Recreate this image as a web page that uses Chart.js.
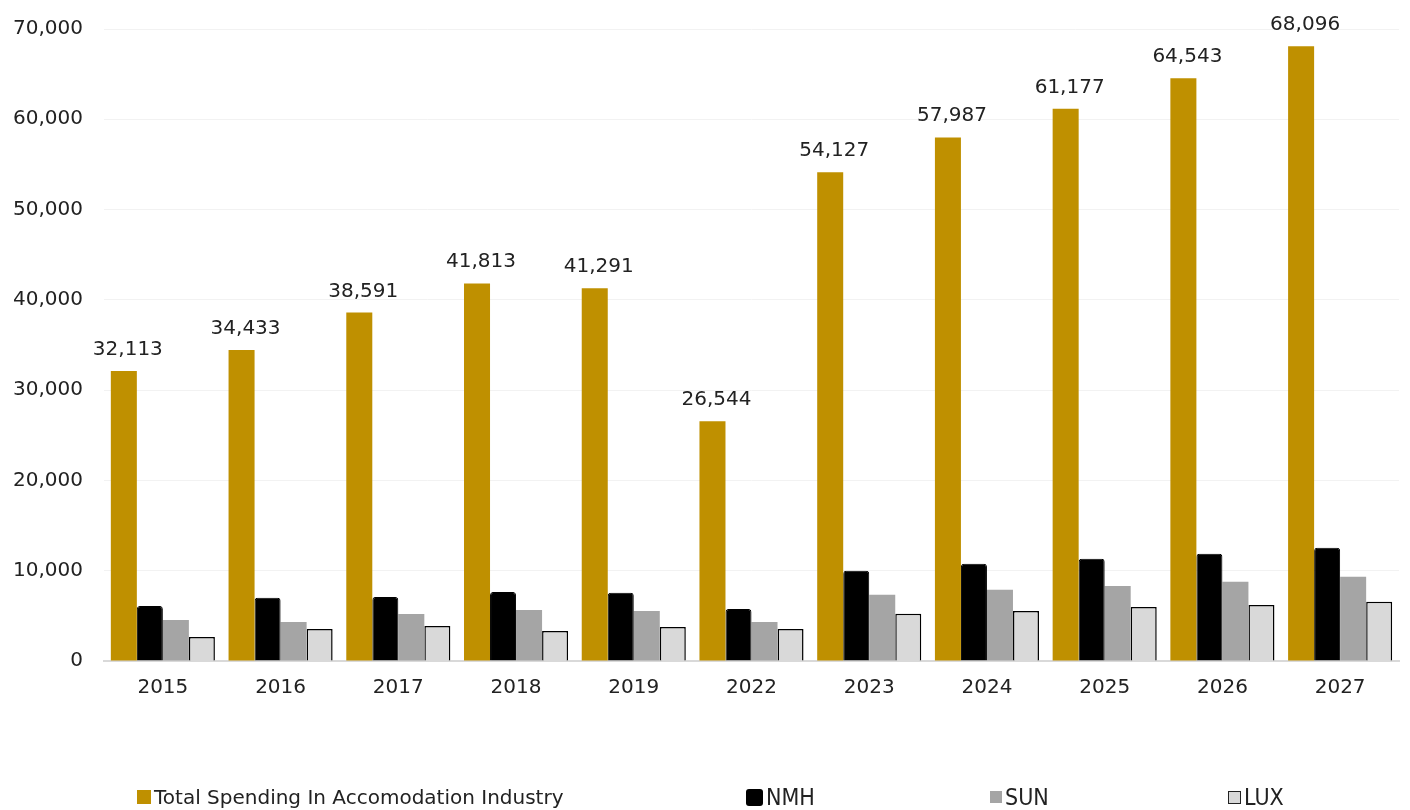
<!DOCTYPE html>
<html>
<head>
<meta charset="utf-8">
<script src="https://cdn.jsdelivr.net/npm/chart.js@4.4.1/dist/chart.umd.min.js"></script>
<style>
  body { margin: 0; background: #fff; }
  #wrap { position: relative; width: 1410px; height: 810px; }
  #legend { position: absolute; left: 0; top: 784px; width: 1410px; height: 26px;
    font-family: "DejaVu Sans", sans-serif; font-size: 20px; color: #222; }
  .item { position: absolute; top: 0; height: 26px; white-space: nowrap; display: flex; align-items: center; }
  .box { display: inline-block; margin-right: 3px; box-sizing: border-box; }
  .narrow { font-family: "Liberation Sans Narrow", "DejaVu Sans Condensed", sans-serif; font-size: 23px; }
</style>
</head>
<body>
<div id="wrap">
  <canvas id="mycanvas" width="1410" height="810"></canvas>
  <div id="legend"></div>
</div>
<script>
var years = ["2015","2016","2017","2018","2019","2022","2023","2024","2025","2026","2027"];
var total_spending = [32113,34433,38591,41813,41291,26544,54127,57987,61177,64543,68096];
var nmh = [6100,7000,7100,7650,7550,5770,10000,10770,11320,11880,12540];
var sun = [4550,4330,5200,5660,5550,4330,7330,7880,8320,8770,9320];
var lux = [2650,3550,3880,3330,3770,3550,5220,5550,5990,6215,6550];

var fontName = '"DejaVu Sans", sans-serif';

// value labels above the gold bars
var topLabels = {
	id: 'topLabels',
	afterDatasetsDraw: function(chart){
		var ctx = chart.ctx;
		var meta = chart.getDatasetMeta(0);
		ctx.save();
		ctx.font = '20px ' + fontName;
		ctx.fillStyle = '#222';
		ctx.textAlign = 'center';
		ctx.textBaseline = 'alphabetic';
		meta.data.forEach(function(bar, i){
			ctx.fillText(total_spending[i].toLocaleString('en-US'), bar.x + 4, bar.y - 16);
		});
		ctx.restore();
	}
};

var chartdata = {
	labels: years,
	datasets: [
		{
			label: "Total Spending In Accomodation Industry",
			backgroundColor: "#BF9000",
			borderWidth: 0,
			data: total_spending
		},
		{
			label: "NMH",
			backgroundColor: "#000000",
			borderColor: "#000000",
			borderWidth: 1,
			borderRadius: 3,
			borderSkipped: 'bottom',
			data: nmh
		},
		{
			label: "SUN",
			backgroundColor: "#A5A5A5",
			borderWidth: 0,
			data: sun
		},
		{
			label: "LUX",
			backgroundColor: "#D9D9D9",
			borderColor: "#000000",
			borderWidth: 1.5,
			borderSkipped: 'bottom',
			data: lux
		}
	]
};

var ctx = document.getElementById("mycanvas");
var BarGraph = new Chart(ctx, {
	type: 'bar',
	data: chartdata,
	options: {
		responsive: false,
		animation: false,
		layout: { padding: { top: 29, right: 11, left: 0, bottom: 103 } },
		datasets: { bar: { categoryPercentage: 0.884, barPercentage: 1 } },
		plugins: {
			legend: { display: false },
			tooltip: { enabled: false }
		},
		scales: {
			x: {
				grid: { display: false },
				border: { color: '#D9D9D9', width: 2 },
				ticks: { color: '#222', font: { family: fontName, size: 20 }, padding: 7 }
			},
			y: {
				min: 0,
				max: 70000,
				border: { display: false },
				grid: { color: '#F2F2F2', lineWidth: 1, drawTicks: false },
				afterFit: function(scale){ scale.width = 104; },
				ticks: {
					stepSize: 10000,
					color: '#222',
					padding: 21,
					font: { family: fontName, size: 20, lineHeight: 0.6 },
					callback: function(v){ return v.toLocaleString('en-US'); }
				}
			}
		}
	},
	plugins: [topLabels]
});

// legend below the chart
var legendItems = [
	{ text: chartdata.datasets[0].label, x: 137, size: 14, bg: '#BF9000', border: 'none', radius: 0, narrow: false },
	{ text: 'NMH', x: 746, size: 17, bg: '#000', border: 'none', radius: 3, narrow: true },
	{ text: 'SUN', x: 990, size: 12, bg: '#A5A5A5', border: 'none', radius: 0, narrow: true },
	{ text: 'LUX', x: 1228, size: 13, bg: '#D9D9D9', border: '1px solid #222', radius: 0, narrow: true }
];
var legend = document.getElementById('legend');
legendItems.forEach(function(it){
	var d = document.createElement('div');
	d.className = 'item' + (it.narrow ? ' narrow' : '');
	d.style.left = it.x + 'px';
	var b = document.createElement('span');
	b.className = 'box';
	b.style.width = it.size + 'px';
	b.style.height = it.size + 'px';
	b.style.background = it.bg;
	b.style.border = it.border;
	b.style.borderRadius = it.radius + 'px';
	d.appendChild(b);
	d.appendChild(document.createTextNode(it.text));
	legend.appendChild(d);
});
</script>
</body>
</html>
